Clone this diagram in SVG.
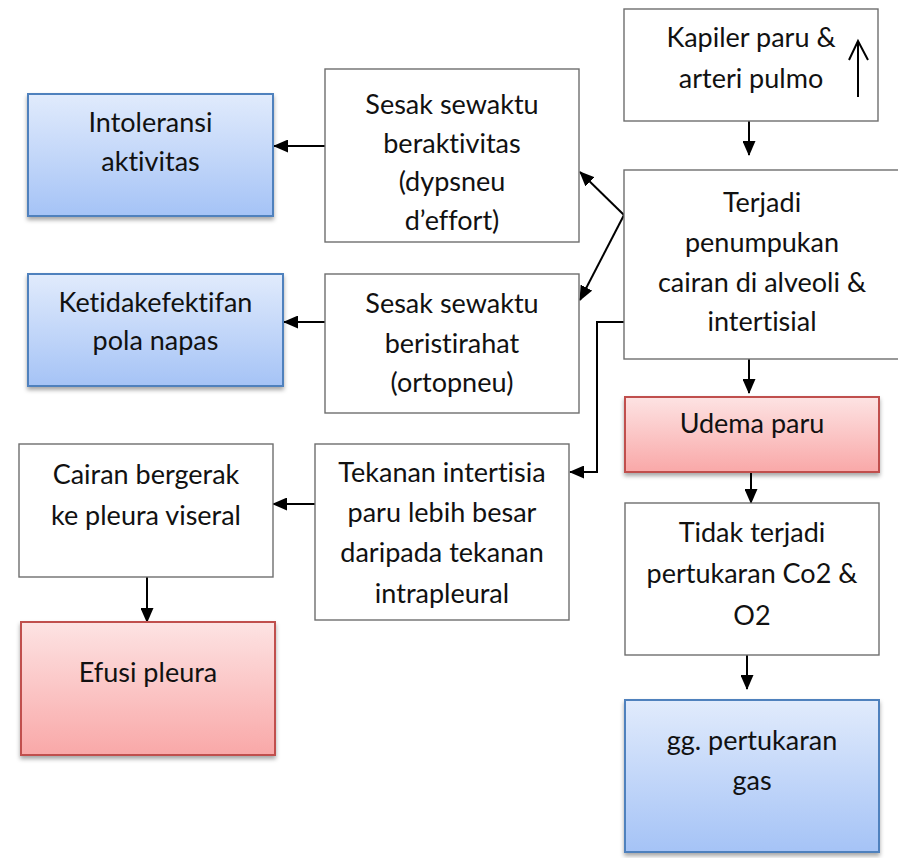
<svg xmlns="http://www.w3.org/2000/svg" width="898" height="858" viewBox="0 0 898 858">
  <defs>
    <linearGradient id="gradBlue" x1="0" y1="0" x2="0" y2="1">
      <stop offset="0" stop-color="#e1ebfc"/>
      <stop offset="1" stop-color="#a5c3f6"/>
    </linearGradient>
    <linearGradient id="gradRed" x1="0" y1="0" x2="0" y2="1">
      <stop offset="0" stop-color="#fde3e3"/>
      <stop offset="1" stop-color="#f9a8a8"/>
    </linearGradient>
    <filter id="shadow" x="-10%" y="-10%" width="120%" height="130%">
      <feDropShadow dx="0" dy="3" stdDeviation="2.2" flood-color="#000" flood-opacity="0.35"/>
    </filter>
    <marker id="arrow" markerUnits="userSpaceOnUse" markerWidth="15" markerHeight="13" refX="14" refY="6.5" orient="auto">
      <path d="M0,0 L15,6.5 L0,13 z" fill="#000"/>
    </marker>
    <style>
      .plain { fill: #ffffff; stroke: #6e6e6e; stroke-width: 1.4; }
      .blue { fill: url(#gradBlue); stroke: #4f81bd; stroke-width: 2; filter: url(#shadow); }
      .red { fill: url(#gradRed); stroke: #c0504d; stroke-width: 2; filter: url(#shadow); }
      text { font-family: Lato, "Open Sans", "Liberation Sans", sans-serif; font-size: 27px; fill: #111; text-anchor: middle; font-variant-ligatures: none; font-feature-settings: "liga" 0; }
      .conn { fill: none; stroke: #000; stroke-width: 2; marker-end: url(#arrow); }
    </style>
  </defs>

  <rect width="898" height="858" fill="#ffffff"/>

  <!-- connectors -->
  <g id="connectors">
    <line class="conn" x1="749" y1="121" x2="749" y2="155"/>
    <line class="conn" x1="749" y1="359" x2="749" y2="393"/>
    <line class="conn" x1="751" y1="472" x2="751" y2="503"/>
    <line class="conn" x1="747" y1="655" x2="747" y2="689"/>
    <line class="conn" x1="624" y1="215" x2="580" y2="172"/>
    <line class="conn" x1="624" y1="215" x2="580" y2="300"/>
    <polyline class="conn" points="624,322 597,322 597,472 570,472"/>
    <line class="conn" x1="325" y1="146" x2="274" y2="146"/>
    <line class="conn" x1="325" y1="322" x2="284" y2="322"/>
    <line class="conn" x1="315" y1="504" x2="273" y2="504"/>
    <line class="conn" x1="147" y1="577" x2="147" y2="622"/>
  </g>

  <g id="node-kapiler">
    <rect class="plain" x="624" y="9" width="254" height="112"/>
    <text x="751" y="47">Kapiler paru &amp;</text>
    <text x="751" y="88">arteri pulmo</text>
    <path d="M858,97 L858,42 M849,60 L858,41 L868,60" fill="none" stroke="#000" stroke-width="2"/>
  </g>

  <g id="node-terjadi">
    <rect class="plain" x="624" y="170" width="290" height="189"/>
    <text x="762" y="212">Terjadi</text>
    <text x="762" y="252">penumpukan</text>
    <text x="762" y="292">cairan di alveoli &amp;</text>
    <text x="762" y="331">intertisial</text>
  </g>

  <g id="node-udema">
    <rect class="red" x="625" y="397" width="254" height="75"/>
    <text x="752" y="433">Udema paru</text>
  </g>

  <g id="node-tidak">
    <rect class="plain" x="625" y="503" width="254" height="152"/>
    <text x="752" y="542">Tidak terjadi</text>
    <text x="752" y="583">pertukaran Co2 &amp;</text>
    <text x="752" y="625">O2</text>
  </g>

  <g id="node-gg">
    <rect class="blue" x="625" y="700" width="254" height="152"/>
    <text x="752" y="750">gg. pertukaran</text>
    <text x="752" y="790">gas</text>
  </g>

  <g id="node-sesak-aktivitas">
    <rect class="plain" x="325" y="69" width="254" height="173"/>
    <text x="452" y="114">Sesak sewaktu</text>
    <text x="452" y="153">beraktivitas</text>
    <text x="452" y="191">(dypsneu</text>
    <text x="452" y="230">d’effort)</text>
  </g>

  <g id="node-sesak-istirahat">
    <rect class="plain" x="325" y="274" width="254" height="139"/>
    <text x="452" y="313">Sesak sewaktu</text>
    <text x="452" y="353">beristirahat</text>
    <text x="452" y="392">(ortopneu)</text>
  </g>

  <g id="node-intoleransi">
    <rect class="blue" x="28" y="94" width="245" height="122"/>
    <text x="150.5" y="132">Intoleransi</text>
    <text x="150.5" y="171">aktivitas</text>
  </g>

  <g id="node-ketidakefektifan">
    <rect class="blue" x="28" y="274" width="255" height="112"/>
    <text x="155.5" y="312">Ketidakefektifan</text>
    <text x="155.5" y="350">pola napas</text>
  </g>

  <g id="node-tekanan">
    <rect class="plain" x="315" y="444" width="254" height="176"/>
    <text x="442" y="482">Tekanan intertisia</text>
    <text x="442" y="522">paru lebih besar</text>
    <text x="442" y="562">daripada tekanan</text>
    <text x="442" y="603">intrapleural</text>
  </g>

  <g id="node-cairan">
    <rect class="plain" x="19" y="444" width="254" height="133"/>
    <text x="146" y="484">Cairan bergerak</text>
    <text x="146" y="525">ke pleura viseral</text>
  </g>

  <g id="node-efusi">
    <rect class="red" x="21" y="622" width="254" height="133"/>
    <text x="148" y="682">Efusi pleura</text>
  </g>
</svg>
